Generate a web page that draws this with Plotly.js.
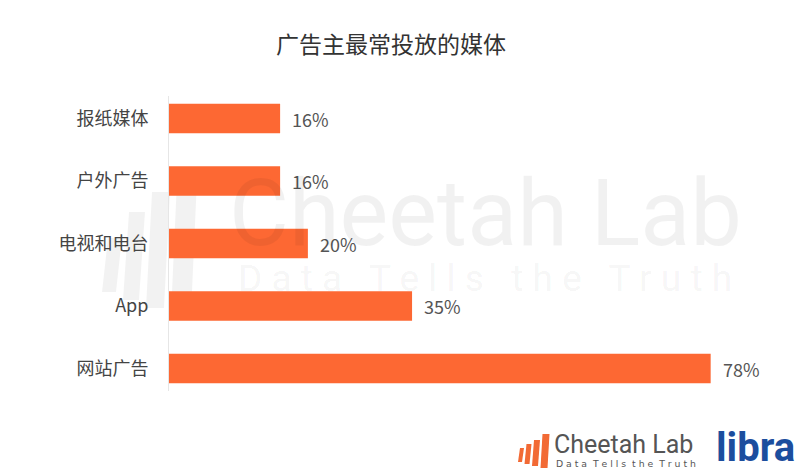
<!DOCTYPE html>
<html>
<head>
<meta charset="utf-8">
<script src="https://cdn.plot.ly/plotly-3.0.1.min.js"></script>
<style>html,body{margin:0;padding:0;background:#fff;}#chart{width:800px;height:471px;}</style>
</head>
<body>
<div id="chart"></div>
<script>
const categories = ["报纸媒体", "户外广告", "电视和电台", "App", "网站广告"];
const values = [16, 16, 20, 35, 78];
const valueSuffix = "%";
const chartTitle = "广告主最常投放的媒体";

const FONT = "'Noto Sans CJK SC', 'Noto Sans', sans-serif";
const BAR = "#FD6833";

const trace = {
  type: "bar",
  orientation: "h",
  y: categories,
  x: values,
  marker: { color: BAR, line: { width: 0 } },
  hoverinfo: "skip"
};

const labelAnnotations = categories.map((c, i) => ({
  x: values[i], y: c, xref: "x", yref: "y",
  text: values[i] + valueSuffix,
  showarrow: false, xanchor: "left", yanchor: "middle", xshift: 10,
  font: { family: FONT, size: 18, color: "#555" }
}));

// helper: pixel -> paper coordinates for decorations
const L = 169, T = 96, W = 625, H = 295;
const px = v => (v - L) / W, py = v => (T + H - v) / H;

const wm = "rgba(0,0,0,0.055)";
const watermark = [
  { xref: "paper", yref: "paper", x: px(485), y: py(213), text: "Cheetah Lab",
    showarrow: false, xanchor: "center", yanchor: "middle",
    font: { family: "Roboto, 'Noto Sans', sans-serif", size: 92, color: wm } },
  { xref: "paper", yref: "paper", x: px(485), y: py(278), text: "D a t a   T e l l s   t h e   T r u t h",
    showarrow: false, xanchor: "center", yanchor: "middle",
    font: { family: "Roboto, 'Noto Sans', sans-serif", size: 37, color: wm } }
];

const logo = [
  { xref: "paper", yref: "paper", x: px(552), y: py(444), text: "Cheetah Lab",
    showarrow: false, xanchor: "left", yanchor: "middle",
    font: { family: "Roboto, 'Noto Sans', sans-serif", size: 25, color: "#555" } },
  { xref: "paper", yref: "paper", x: px(554), y: py(463), text: "D a t a  T e l l s  t h e  T r u t h",
    showarrow: false, xanchor: "left", yanchor: "middle",
    font: { family: "'DejaVu Sans', sans-serif", size: 9.3, color: "#555" } },
  { xref: "paper", yref: "paper", x: px(797), y: py(447), text: "<b>libra</b>",
    showarrow: false, xanchor: "right", yanchor: "middle",
    font: { family: "Roboto, 'Noto Sans', sans-serif", size: 40, color: "#1C4E9E" } }
];

function bars(x0, yTop, yBot, widths, gaps, color, slant) {
  const out = [];
  let x = x0;
  widths.forEach((w, i) => {
    const top = yTop[i], bot = yBot[i];
    const p = `M ${px(x)} ${py(bot)} L ${px(x + slant)} ${py(top)} L ${px(x + slant + w)} ${py(top)} L ${px(x + w)} ${py(bot)} Z`;
    out.push({ type: "path", xref: "paper", yref: "paper", path: p, fillcolor: color, line: { width: 0 }, layer: "below" });
    x += w + gaps;
  });
  return out;
}
const shapes = [].concat(
  bars(102, [238, 212, 192, 180], [292, 300, 308, 314], [14, 16, 18, 20], 7, "rgba(0,0,0,0.05)", 6),
  bars(518, [448, 444, 440, 434], [462, 464, 466, 468], [4, 5, 6, 7], 2.5, "#F26A35", 2)
);

const layout = {
  width: 800, height: 471,
  margin: { l: 169, r: 6, t: 96, b: 80 },
  paper_bgcolor: "#fff", plot_bgcolor: "rgba(0,0,0,0)",
  font: { family: FONT, color: "#444" },
  title: {
    text: chartTitle,
    x: 391/800, xref: "container", xanchor: "center",
    y: 1 - 45/471, yref: "container", yanchor: "middle",
    font: { family: FONT, size: 23, color: "#333" }
  },
  bargap: 0.528,
  showlegend: false,
  xaxis: { range: [0, 90], visible: false, fixedrange: true },
  yaxis: {
    autorange: false, range: [4.36, -0.36],
    type: "category",
    showline: true, linecolor: "#e6e6e6", linewidth: 1,
    showgrid: false, zeroline: false, ticks: "",
    ticklabelstandoff: 16,
    tickfont: { family: FONT, size: 18, color: "#444" }
  },
  annotations: labelAnnotations.concat(watermark, logo),
  shapes: shapes
};

Plotly.newPlot("chart", [trace], layout, { displayModeBar: false, staticPlot: true });
</script>
</body>
</html>
